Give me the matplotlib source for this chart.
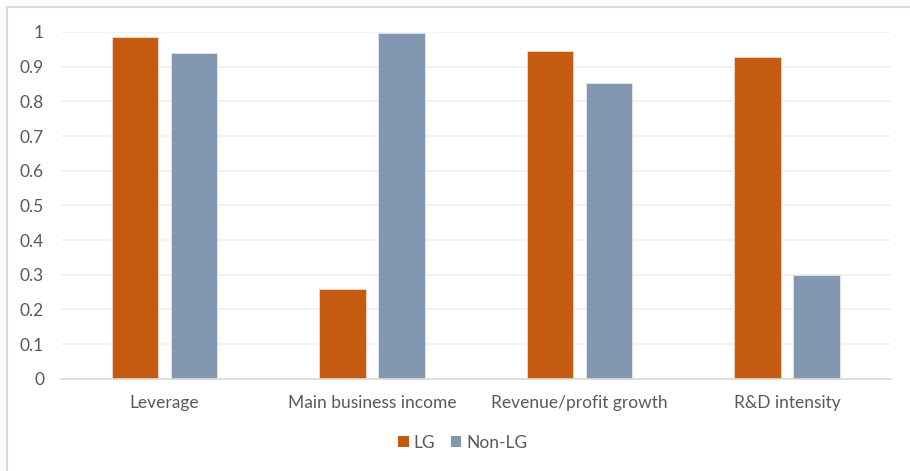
import matplotlib.pyplot as plt
import numpy as np
from matplotlib.patches import Rectangle, Patch

plt.rcParams['font.family'] = ['Lato', 'DejaVu Sans']

categories = ['Leverage', 'Main business income', 'Revenue/profit growth', 'R&D intensity']
lg_values = [0.986, 0.258, 0.945, 0.929]
non_lg_values = [0.938, 0.996, 0.853, 0.299]
series_names = ['LG', 'Non-LG']
y_ticks = [0, 0.1, 0.2, 0.3, 0.4, 0.5, 0.6, 0.7, 0.8, 0.9, 1]
y_tick_labels = ['0', '0.1', '0.2', '0.3', '0.4', '0.5', '0.6', '0.7', '0.8', '0.9', '1']

LG_COLOR = '#C55A11'
NON_LG_COLOR = '#8497B0'
TEXT_COLOR = '#595959'
FONT_SIZE = 12.5

W, H = 910, 471
fig = plt.figure(figsize=(W / 100, H / 100), dpi=100)
ax = fig.add_axes([60.7 / W, (H - 378.7) / H, 830 / W, 346.7 / H])

x = np.arange(len(categories))
bar_width = 0.223
offset = 0.142
ax.bar(x - offset, lg_values, bar_width, color=LG_COLOR, edgecolor='#f4d9c8', linewidth=0.6, zorder=3)
ax.bar(x + offset, non_lg_values, bar_width, color=NON_LG_COLOR, edgecolor='#e3e8ef', linewidth=0.6, zorder=3)

ax.set_xlim(-0.5, len(categories) - 0.5)
ax.set_ylim(0, 1)
ax.set_yticks(y_ticks)
ax.set_yticklabels(y_tick_labels)
ax.set_xticks(x)
ax.set_xticklabels(categories)
ax.tick_params(axis='y', length=0, pad=12, labelsize=FONT_SIZE, labelcolor=TEXT_COLOR)
ax.tick_params(axis='x', length=0, pad=12, labelsize=FONT_SIZE, labelcolor=TEXT_COLOR)

ax.grid(axis='y', color='#efefef', linewidth=1.2, zorder=0)
for side in ['top', 'right', 'left']:
    ax.spines[side].set_visible(False)
ax.spines['bottom'].set_color('#d9d9d9')
ax.spines['bottom'].set_linewidth(1.2)
ax.spines['bottom'].set_zorder(4)

handles = [Patch(facecolor=LG_COLOR), Patch(facecolor=NON_LG_COLOR)]
fig.legend(handles, series_names, loc='center', bbox_to_anchor=(463 / W, 1 - 443 / H),
           ncol=2, frameon=False, fontsize=FONT_SIZE, labelcolor=TEXT_COLOR,
           handlelength=0.6, handleheight=0.6, handletextpad=0.3, columnspacing=0.9)

# outer chart border (left and top edges visible)
fig.add_artist(Rectangle((6.5 / W, -0.1), 1.2, 1.1 - 6.5 / H, transform=fig.transFigure,
                         fill=False, edgecolor='#d9d9d9', linewidth=1.5))

fig.savefig('out.png', dpi=100)
